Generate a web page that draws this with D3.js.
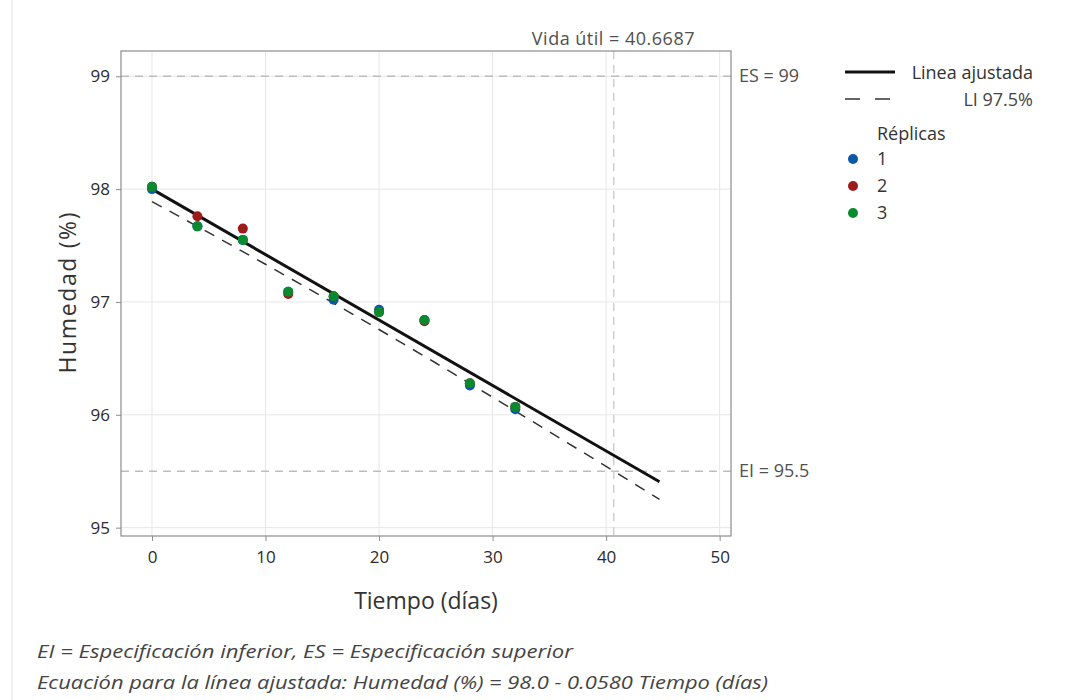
<!DOCTYPE html>
<html lang="es">
<head>
<meta charset="UTF-8">
<script src="https://d3js.org/d3.v7.min.js"></script>
<title>Vida útil - Humedad</title>
<style>
    body { margin: 0; background: white; font-family: "Open Sans", "Noto Sans", sans-serif; }
    svg { display: block; }
</style>
</head>
<body>
<svg id="chart" width="1067" height="700"></svg>
<script>
    // data
    const tiempos = [0, 4, 8, 12, 16, 20, 24, 28, 32];
    const replica1 = [98.00, 97.67, 97.55, 97.09, 97.02, 96.93, 96.84, 96.26, 96.05];
    const replica2 = [98.02, 97.76, 97.65, 97.07, 97.05, 96.91, 96.83, 96.28, 96.07];
    const replica3 = [98.02, 97.67, 97.55, 97.09, 97.05, 96.91, 96.84, 96.28, 96.07];
    const replicaNames = ["1", "2", "3"];
    const replicaColors = ["#0b57a8", "#9e1b1b", "#0a8a2e"];

    const fitX = [0, 44.7];
    const fitY = [98.0, 95.407];
    const liX = [0, 5, 10, 15, 20, 25, 30, 35, 40, 44.7];
    const liY = [97.89, 97.614, 97.334, 97.048, 96.756, 96.459, 96.156, 95.85, 95.543, 95.25];

    const xTicks = [0, 10, 20, 30, 40, 50];
    const yTicks = [95, 96, 97, 98, 99];
    const specSup = 99, specInf = 95.5, vidaUtil = 40.6687;

    const svg = d3.select("#chart");
    const pL = 121, pR = 731, pT = 51, pB = 536;

    const x = d3.scaleLinear().domain([-2.73, 51.0]).range([pL, pR]);
    const y = d3.scaleLinear().domain([94.926, 99.224]).range([pB, pT]);

    // faint page border on the left
    svg.append("line").attr("x1", 12).attr("x2", 12).attr("y1", 0).attr("y2", 700)
        .attr("stroke", "#ececec").attr("stroke-width", 1.5);

    // grid
    svg.append("g").selectAll("line").data(xTicks).join("line")
        .attr("x1", d => x(d)).attr("x2", d => x(d)).attr("y1", pT).attr("y2", pB)
        .attr("stroke", "#e6e6e6").attr("stroke-width", 1);
    svg.append("g").selectAll("line").data(yTicks).join("line")
        .attr("x1", pL).attr("x2", pR).attr("y1", d => y(d)).attr("y2", d => y(d))
        .attr("stroke", "#e6e6e6").attr("stroke-width", 1);

    // spec lines and shelf life
    const refColor = "#bdbdbd";
    [specSup, specInf].forEach(v => {
        svg.append("line").attr("x1", pL).attr("x2", pR).attr("y1", y(v)).attr("y2", y(v))
            .attr("stroke", refColor).attr("stroke-width", 1.5).attr("stroke-dasharray", "8,6");
    });
    svg.append("line").attr("x1", x(vidaUtil)).attr("x2", x(vidaUtil)).attr("y1", pT).attr("y2", pB)
        .attr("stroke", "#cfcfcf").attr("stroke-width", 1.5).attr("stroke-dasharray", "8,6");

    // frame
    svg.append("rect").attr("x", pL).attr("y", pT).attr("width", pR - pL).attr("height", pB - pT)
        .attr("fill", "none").attr("stroke", "#8c8c8c").attr("stroke-width", 1.2);

    // axes
    const xAxis = svg.append("g").attr("transform", `translate(0,${pB})`)
        .call(d3.axisBottom(x).tickValues(xTicks).tickSize(5).tickPadding(10));
    const yAxis = svg.append("g").attr("transform", `translate(${pL},0)`)
        .call(d3.axisLeft(y).tickValues(yTicks).tickFormat(d3.format("d")).tickSize(5).tickPadding(6));
    [xAxis, yAxis].forEach(g => {
        g.select(".domain").remove();
        g.selectAll(".tick line").attr("stroke", "#8c8c8c");
        g.selectAll(".tick text").attr("fill", "#2b2b2b").style("font-size", "17px")
            .style("font-family", "'Open Sans', sans-serif");
    });

    // fitted line and lower bound
    const line = d3.line().x(d => x(d[0])).y(d => y(d[1]));
    svg.append("path").datum(liX.map((v, i) => [v, liY[i]])).attr("d", line)
        .attr("fill", "none").attr("stroke", "#333").attr("stroke-width", 1.5)
        .attr("stroke-dasharray", "11,9");
    svg.append("path").datum(fitX.map((v, i) => [v, fitY[i]])).attr("d", line)
        .attr("fill", "none").attr("stroke", "#111").attr("stroke-width", 3);

    // points
    [replica1, replica2, replica3].forEach((serie, k) => {
        svg.append("g").selectAll("circle").data(serie).join("circle")
            .attr("cx", (d, i) => x(tiempos[i])).attr("cy", d => y(d)).attr("r", 5)
            .attr("fill", replicaColors[k]);
    });

    // annotations
    const note = { fill: "#505050", size: "18px" };
    svg.append("text").attr("x", 739).attr("y", y(specSup) + 6).text("ES = 99")
        .attr("fill", note.fill).style("font-size", note.size);
    svg.append("text").attr("x", 739).attr("y", y(specInf) + 6).text("EI = 95.5")
        .attr("fill", note.fill).style("font-size", note.size);
    svg.append("text").attr("x", 695).attr("y", 45).attr("text-anchor", "end")
        .text("Vida útil = 40.6687").attr("fill", note.fill).style("font-size", note.size)
        .style("letter-spacing", "0.5px");

    // axis titles
    svg.append("text").attr("x", 426).attr("y", 609).attr("text-anchor", "middle")
        .text("Tiempo (días)").attr("fill", "#333").style("font-size", "23px");
    svg.append("text").attr("transform", "translate(76,293) rotate(-90)").attr("text-anchor", "middle")
        .text("Humedad (%)").attr("fill", "#333").style("font-size", "23px")
        .attr("textLength", 161).attr("lengthAdjust", "spacing");

    // legend
    const lg = svg.append("g");
    const lgSize = "18px";
    lg.append("line").attr("x1", 845).attr("x2", 895).attr("y1", 72).attr("y2", 72)
        .attr("stroke", "#111").attr("stroke-width", 3);
    lg.append("line").attr("x1", 845).attr("x2", 892).attr("y1", 99).attr("y2", 99)
        .attr("stroke", "#333").attr("stroke-width", 1.5).attr("stroke-dasharray", "15,15");
    lg.append("text").attr("x", 1033).attr("y", 79).attr("text-anchor", "end")
        .text("Linea ajustada").attr("fill", "#333").style("font-size", lgSize);
    lg.append("text").attr("x", 1033).attr("y", 106).attr("text-anchor", "end")
        .text("LI 97.5%").attr("fill", "#444").style("font-size", lgSize);
    lg.append("text").attr("x", 877).attr("y", 140).text("Réplicas")
        .attr("fill", "#333").style("font-size", lgSize);
    replicaNames.forEach((n, i) => {
        lg.append("circle").attr("cx", 853).attr("cy", 159 + i * 27).attr("r", 5).attr("fill", replicaColors[i]);
        lg.append("text").attr("x", 877).attr("y", 165 + i * 27).text(n)
            .attr("fill", "#333").style("font-size", lgSize);
    });

    // footnotes
    const foot = [
        "EI = Especificación inferior, ES = Especificación superior",
        "Ecuación para la línea ajustada: Humedad (%) = 98.0 - 0.0580 Tiempo (días)"
    ];
    const footLen = [536, 731];
    foot.forEach((t, i) => {
        svg.append("text").attr("x", 37).attr("y", 658 + i * 31).text(t)
            .attr("fill", "#444").style("font-size", "19px").style("font-style", "italic")
            .attr("textLength", footLen[i]).attr("lengthAdjust", "spacingAndGlyphs");
    });
</script>
</body>
</html>
